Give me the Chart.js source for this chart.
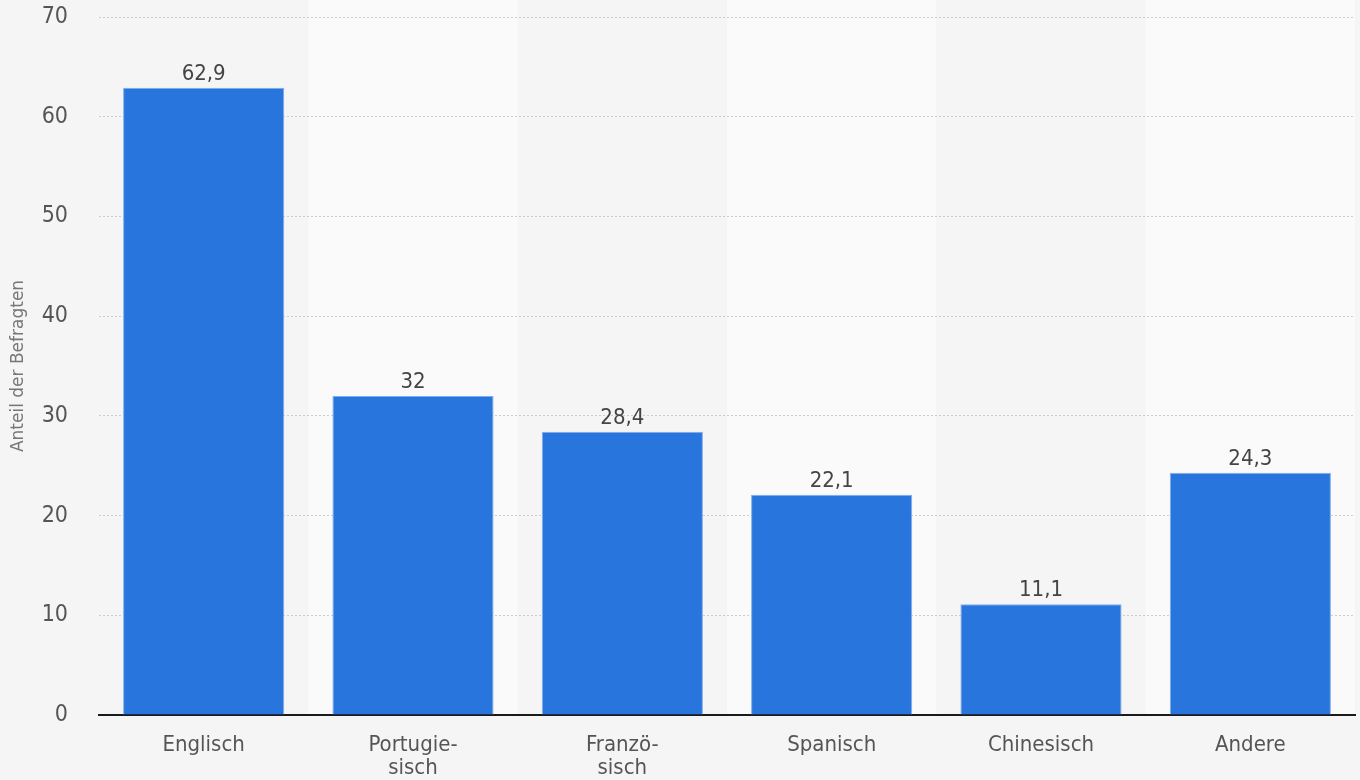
<!DOCTYPE html>
<html>
<head>
<meta charset="utf-8">
<script src="https://cdn.jsdelivr.net/npm/chart.js@4/dist/chart.umd.min.js"></script>
<style>
  html, body { margin: 0; padding: 0; background: #f5f5f5; }
  #wrap { width: 1360px; height: 780px; position: relative; }
</style>
</head>
<body>
<div id="wrap"><canvas id="langChart"></canvas></div>
<script>
// ---- DATA ----
const languages = ['Englisch', ['Portugie-', 'sisch'], ['Franzö-', 'sisch'], 'Spanisch', 'Chinesisch', 'Andere'];
const shares = [62.9, 32, 28.4, 22.1, 11.1, 24.3];
const yTicks = [0, 10, 20, 30, 40, 50, 60, 70];

const FONT = '"DejaVu Sans Condensed", "DejaVu Sans", sans-serif';
const fmt = v => String(v).replace('.', ',');

// alternating column bands behind the grid
const bandPlugin = {
  id: 'bands',
  beforeDraw(chart) {
    const { ctx, chartArea, scales } = chart;
    const step = (chartArea.right - chartArea.left) / languages.length;
    ctx.save();
    ctx.fillStyle = '#fafafa';
    languages.forEach((_, i) => {
      if (i % 2 === 1) {
        const cx = scales.x.getPixelForValue(i);
        ctx.fillRect(cx - step / 2, 0, step, chartArea.bottom);
      }
    });
    ctx.restore();
  },
};

// value labels above bars
const valueLabels = {
  id: 'valueLabels',
  afterDatasetsDraw(chart) {
    const { ctx } = chart;
    const meta = chart.getDatasetMeta(0);
    ctx.save();
    ctx.font = '22px ' + FONT;
    ctx.fillStyle = '#444';
    ctx.textAlign = 'center';
    ctx.textBaseline = 'alphabetic';
    meta.data.forEach((bar, i) => {
      ctx.fillText(fmt(shares[i]), bar.x, bar.y - 8);
    });
    ctx.restore();
  },
};

new Chart(document.getElementById('langChart'), {
  type: 'bar',
  data: {
    labels: languages,
    datasets: [{
      data: shares,
      backgroundColor: '#2876dd',
      borderColor: '#80adec',
      borderWidth: 1,
      borderSkipped: 'bottom',
      categoryPercentage: 1,
      barPercentage: 0.77,
    }],
  },
  options: {
    responsive: true,
    maintainAspectRatio: false,
    animation: false,
    layout: { padding: { top: 17, right: 5, bottom: 0, left: 0 } },
    plugins: {
      legend: { display: false },
      tooltip: { enabled: false },
    },
    scales: {
      x: {
        afterFit: axis => { axis.height = 65; },
        grid: { display: false, drawTicks: false },
        border: { display: true, color: '#1a1a1a', width: 2 },
        ticks: {
          color: '#555',
          padding: 19,
          maxRotation: 0,
          autoSkip: false,
          font: { family: FONT, size: 22, lineHeight: 1.05 },
        },
      },
      y: {
        min: 0,
        max: 70,
        afterBuildTicks: axis => { axis.ticks = yTicks.map(v => ({ value: v })); },
        afterFit: axis => {
          axis.width = 99;
          axis.paddingTop = 0;
          axis.paddingBottom = 0;
        },
        border: { display: false, dash: [2, 2] },
        grid: { color: '#cccccc', lineWidth: 1, drawTicks: false },
        ticks: {
          color: '#555',
          padding: 31,
          font: { family: FONT, size: 23 },
        },
        title: {
          display: true,
          text: 'Anteil der Befragten',
          color: '#777',
          padding: { top: 8, bottom: 0 },
          font: { family: '"DejaVu Sans", sans-serif', size: 17 },
        },
      },
    },
  },
  plugins: [bandPlugin, valueLabels],
});
</script>
</body>
</html>
